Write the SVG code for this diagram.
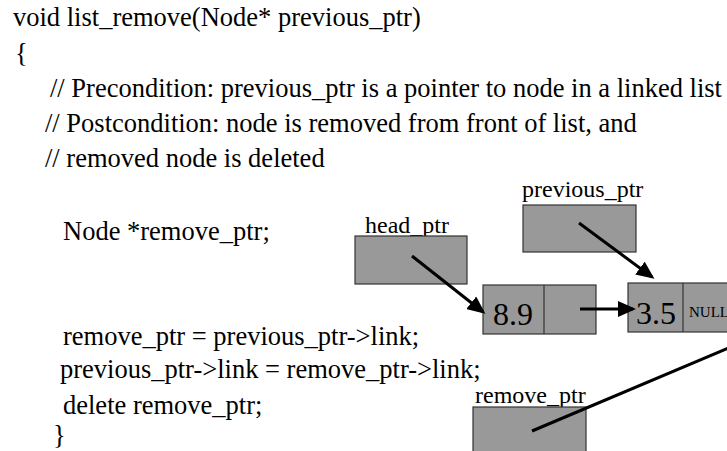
<svg xmlns="http://www.w3.org/2000/svg" width="727" height="451" viewBox="0 0 727 451">
  <style>
    .code { font-family: "Liberation Serif", "Times New Roman", serif; font-size: 26.5px; fill: #000; }
    .label { font-family: "Liberation Serif", "Times New Roman", serif; font-size: 24px; fill: #000; }
    .num { font-family: "Liberation Serif", "Times New Roman", serif; font-size: 32px; fill: #000; }
    .null { font-family: "Liberation Serif", "Times New Roman", serif; font-size: 15px; fill: #000; }
    .box { fill: #999999; stroke: #333333; stroke-width: 1.2; }
    .wire { stroke: #000; stroke-width: 3; fill: none; }
  </style>
  <defs>
    <marker id="arrow" markerUnits="userSpaceOnUse" markerWidth="18" markerHeight="16" viewBox="0 0 18 16" refX="15" refY="8" orient="auto">
      <path d="M0,0 L18,8 L0,16 z" fill="#000"/>
    </marker>
  </defs>

  <rect x="0" y="0" width="727" height="451" fill="#ffffff"/>

  <!-- source listing -->
  <g id="code">
    <text class="code" x="13" y="26">void list_remove(Node* previous_ptr)</text>
    <text class="code" x="15" y="62">{</text>
    <text class="code" x="50" y="97">// Precondition: previous_ptr is a pointer to node in a linked list</text>
    <text class="code" x="45" y="132">// Postcondition: node is removed from front of list, and</text>
    <text class="code" x="45" y="167">// removed node is deleted</text>
    <text class="code" x="63" y="240">Node *remove_ptr;</text>
    <text class="code" x="63" y="345">remove_ptr = previous_ptr-&gt;link;</text>
    <text class="code" x="60" y="378">previous_ptr-&gt;link = remove_ptr-&gt;link;</text>
    <text class="code" x="63" y="414">delete remove_ptr;</text>
    <text class="code" x="53" y="444">}</text>
  </g>

  <!-- pointer variables -->
  <g id="head_ptr">
    <text class="label" x="365" y="233">head_ptr</text>
    <rect class="box" x="355" y="236" width="112" height="48"/>
  </g>
  <g id="previous_ptr">
    <text class="label" x="522" y="197">previous_ptr</text>
    <rect class="box" x="523" y="205" width="113" height="47"/>
  </g>
  <g id="remove_ptr">
    <text class="label" x="475" y="403">remove_ptr</text>
    <rect class="box" x="473" y="407" width="113" height="50"/>
  </g>

  <!-- list nodes -->
  <g id="node_8_9">
    <rect class="box" x="483" y="285" width="113" height="49"/>
    <line x1="544" y1="285" x2="544" y2="334" stroke="#333333" stroke-width="1.2"/>
    <text class="num" x="493" y="325">8.9</text>
  </g>
  <g id="node_3_5">
    <rect class="box" x="628" y="283" width="113" height="49"/>
    <line x1="683" y1="283" x2="683" y2="332" stroke="#333333" stroke-width="1.2"/>
    <text class="num" x="636" y="324">3.5</text>
    <text class="null" x="689" y="317">NULL</text>
  </g>

  <!-- pointer links -->
  <g id="connectors">
    <line class="wire" x1="412" y1="256" x2="483" y2="312" marker-end="url(#arrow)"/>
    <line class="wire" x1="579" y1="223" x2="652" y2="277" marker-end="url(#arrow)"/>
    <line class="wire" x1="580" y1="309" x2="633" y2="309" marker-end="url(#arrow)"/>
    <line class="wire" x1="532" y1="431" x2="745" y2="341"/>
  </g>
</svg>
